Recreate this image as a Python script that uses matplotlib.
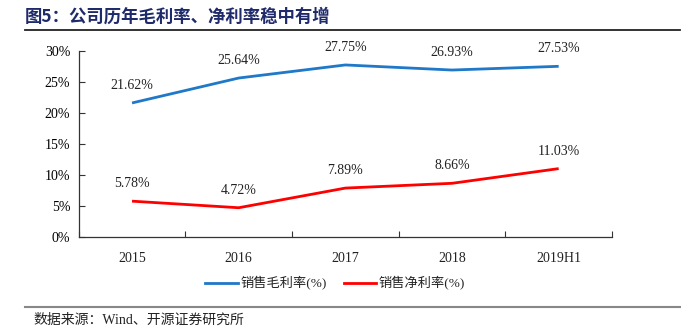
import matplotlib
matplotlib.use("Agg")
import matplotlib.pyplot as plt
from matplotlib.lines import Line2D

categories = ["2015", "2016", "2017", "2018", "2019H1"]
gross_margin = [21.62, 25.64, 27.75, 26.93, 27.53]
net_margin = [5.78, 4.72, 7.89, 8.66, 11.03]
y_ticks = [0, 5, 10, 15, 20, 25, 30]
series_names = ["销售毛利率(%)", "销售净利率(%)"]
title_text = "图5：公司历年毛利率、净利率稳中有增"
source_text = "数据来源：Wind、开源证券研究所"

FONT = ["Liberation Serif", "Noto Sans CJK SC", "DejaVu Sans"]
plt.rcParams["font.family"] = FONT

W, H = 681, 330
fig = plt.figure(figsize=(W / 100, H / 100), dpi=100)

# axes placement in pixels
left, right, top, bottom = 78.7, 612, 51, 237
ax = fig.add_axes([left / W, 1 - bottom / H, (right - left) / W, (bottom - top) / H])

x = list(range(len(categories)))
blue = "#1F78C8"
red = "#FF0000"
ax.plot(x, gross_margin, color=blue, lw=2.0, solid_capstyle="butt")
ax.plot(x, net_margin, color=red, lw=2.0, solid_capstyle="butt")

for xi, v in zip(x, gross_margin):
    ax.annotate(f"{v:.2f}%", (xi, v), xytext=(0, 12.5), textcoords="offset points",
                ha="center", va="center", fontsize=10, color="#222222")
for xi, v in zip(x, net_margin):
    ax.annotate(f"{v:.2f}%", (xi, v), xytext=(0, 12.5), textcoords="offset points",
                ha="center", va="center", fontsize=10, color="#222222")

ax.set_xlim(-0.5, len(categories) - 0.5)
ax.set_ylim(0, 30)
ax.set_yticks(y_ticks)
ax.set_yticklabels([f"{t}%" for t in y_ticks], fontsize=10)
ax.set_xticks([i + 0.5 for i in range(-1, len(categories))])
ax.set_xticklabels([])
ax.tick_params(axis="both", direction="in", length=4, width=0.8, color="#333333")
ax.tick_params(axis="y", pad=6)
for i, c in enumerate(categories):
    ax.text(i, -3.4, c, ha="center", va="center", fontsize=10, color="#222222")
for s in ["top", "right"]:
    ax.spines[s].set_visible(False)
for s in ["left", "bottom"]:
    ax.spines[s].set_color("#333333")
    ax.spines[s].set_linewidth(0.9)

# title
fig.text(25 / W, 1 - 17 / H, title_text, fontsize=12.5, fontweight="bold",
         color="#1F2A6B", ha="left", va="center", family=["Noto Sans CJK SC"])
fig.add_artist(Line2D([25 / W, 680 / W], [1 - 30 / H, 1 - 30 / H], color="#222222", lw=1.3))

# legend
ly = 1 - 283 / H
fig.add_artist(Line2D([205 / W, 238 / W], [ly, ly], color=blue, lw=2.0))
fig.text(240 / W, ly, series_names[0], fontsize=9.5, ha="left", va="center", color="#222222")
fig.add_artist(Line2D([344 / W, 376 / W], [ly, ly], color=red, lw=2.0))
fig.text(378 / W, ly, series_names[1], fontsize=9.5, ha="left", va="center", color="#222222")

# bottom rule and source
fig.add_artist(Line2D([25 / W, 681 / W], [1 - 307 / H, 1 - 307 / H], color="#888888", lw=1.5))
fig.text(33 / W, 1 - 320 / H, source_text, fontsize=10, ha="left", va="center", color="#222222")

fig.savefig("out.png", dpi=100)
